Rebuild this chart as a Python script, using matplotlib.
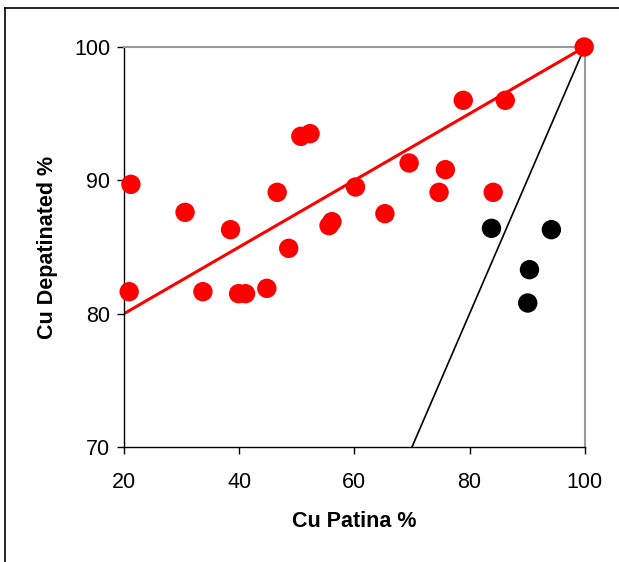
import matplotlib.pyplot as plt
from matplotlib.lines import Line2D

plt.rcParams['font.family'] = ['Liberation Sans', 'DejaVu Sans']

# red samples (patina vs depatinated)
red_x = [20.9, 21.2, 30.6, 33.7, 38.5, 39.9, 41.1, 44.8, 46.6, 48.6, 50.7, 52.3,
         55.6, 56.1, 60.2, 65.3, 69.5, 74.7, 75.8, 78.9, 84.1, 86.2, 99.9]
red_y = [81.65, 89.7, 87.6, 81.65, 86.3, 81.5, 81.5, 81.9, 89.1, 84.9, 93.3, 93.5,
         86.6, 86.9, 89.5, 87.5, 91.3, 89.1, 90.8, 96.0, 89.1, 96.0, 100.0]

# black samples
black_x = [83.8, 94.2, 90.4, 90.1]
black_y = [86.4, 86.3, 83.3, 80.8]

# reference lines
red_line_x = [20, 100]
red_line_y = [80, 100]
black_line_x = [70, 100]
black_line_y = [70, 100]

fig = plt.figure(figsize=(6.19, 5.62), dpi=100)
ax = fig.add_axes([0.2003, 0.2046, 0.7444, 0.7118])

ax.plot(red_line_x, red_line_y, color='#ff0000', lw=2.2, zorder=2)
ax.plot(black_line_x, black_line_y, color='black', lw=1.2, zorder=2)
ax.scatter(red_x, red_y, s=195, color='#ff0000', edgecolors='none', zorder=3, clip_on=False)
ax.scatter(black_x, black_y, s=195, color='black', edgecolors='none', zorder=3)

ax.set_xlim(20, 100)
ax.set_ylim(70, 100)
ax.set_xticks([20, 40, 60, 80, 100])
ax.set_yticks([70, 80, 90, 100])
ax.tick_params(direction='out', length=5, width=1, labelsize=15.5)
ax.tick_params(axis='y', pad=5)
ax.tick_params(axis='x', pad=13)

for s in ['left', 'bottom']:
    ax.spines[s].set_color('black')
    ax.spines[s].set_linewidth(1)
for s in ['top', 'right']:
    ax.spines[s].set_color('#999999')
    ax.spines[s].set_linewidth(1.5)

ax.set_xlabel('Cu Patina %', fontsize=15.5, fontweight='bold', va='center')
ax.set_ylabel('Cu Depatinated %', fontsize=15.5, fontweight='bold', va='center')
ax.xaxis.set_label_coords(0.5, -0.185)
ax.yaxis.set_label_coords(-0.167, 0.5)

# outer frame (left and top edges visible)
fig.add_artist(Line2D([5/619, 5/619], [0, 1 - 8/562], color='black', lw=1.2))
fig.add_artist(Line2D([5/619, 1], [1 - 8/562, 1 - 8/562], color='black', lw=1.2))

fig.savefig('out.png', dpi=100)
